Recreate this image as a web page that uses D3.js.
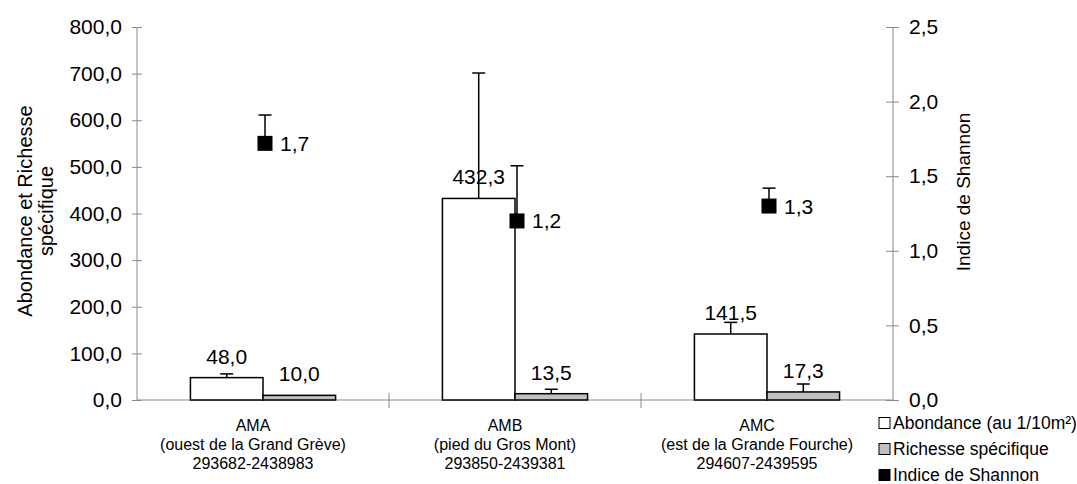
<!DOCTYPE html>
<html>
<head>
<meta charset="utf-8">
<script src="https://cdn.jsdelivr.net/npm/d3@7"></script>
<style>
  html, body { margin: 0; padding: 0; background: #fff; }
  svg { display: block; font-family: "Liberation Sans", Arial, sans-serif; }
</style>
</head>
<body>
<svg id="chart" width="1077" height="484"></svg>
<script>
// ---- Data ----
const categories = ["AMA", "AMB", "AMC"];
const categorySub = ["(ouest de la Grand Grève)", "(pied du Gros Mont)", "(est de la Grande Fourche)"];
const categoryCoord = ["293682-2438983", "293850-2439381", "294607-2439595"];
const abondance = [48.0, 432.3, 141.5];
const abondanceErr = [8, 269, 25];
const richesse = [10.0, 13.5, 17.3];
const richesseErr = [0, 9.5, 17];
const shannon = [1.72, 1.2, 1.3];
const shannonErr = [0.19, 0.37, 0.12];
const leftTicks = [0, 100, 200, 300, 400, 500, 600, 700, 800];
const rightTicks = [0, 0.5, 1.0, 1.5, 2.0, 2.5];
const legendLabels = ["Abondance (au 1/10m²)", "Richesse spécifique", "Indice de Shannon"];

// ---- Layout ----
const svg = d3.select("#chart");
const X0 = 137, X1 = 893, Y0 = 400, Y1 = 27;
const fmt = v => v.toFixed(1).replace(".", ",");

const x = d3.scaleBand().domain(categories).range([X0, X1]).paddingInner(0).paddingOuter(0);
const yL = d3.scaleLinear().domain([0, 800]).range([Y0, Y1]);
const yR = d3.scaleLinear().domain([0, 2.5]).range([Y0, Y1]);
const barW = x.bandwidth() * 0.288;
const axisColor = "#8a8a8a";
const bigFont = 21;

// Left axis
const gL = svg.append("g").attr("transform", `translate(${X0},0)`)
  .call(d3.axisLeft(yL).tickValues(leftTicks).tickFormat(fmt).tickSize(5).tickPadding(10));
gL.selectAll(".tick line").attr("x2", 5).attr("x1", -5);
// Right axis
const gR = svg.append("g").attr("transform", `translate(${X1},0)`)
  .call(d3.axisRight(yR).tickValues(rightTicks).tickFormat(fmt).tickSize(6).tickPadding(10));
gR.selectAll(".tick line").attr("x1", -7).attr("x2", 6);
[gL, gR].forEach(g => {
  g.selectAll(".tick line").attr("stroke", axisColor);
  g.selectAll(".tick text").attr("font-size", bigFont).attr("fill", "#000")
    .attr("font-family", "'Liberation Sans', Arial, sans-serif");
  g.select(".domain").remove();
});
svg.append("line").attr("x1", X0).attr("x2", X0).attr("y1", Y1).attr("y2", Y0).attr("stroke", axisColor);
svg.append("line").attr("x1", X1).attr("x2", X1).attr("y1", Y1).attr("y2", Y0).attr("stroke", axisColor);

// Bottom axis
svg.append("line").attr("x1", X0).attr("x2", X1).attr("y1", Y0).attr("y2", Y0).attr("stroke", axisColor);
const seps = categories.slice(1).map(c => x(c));
svg.selectAll(".sep").data(seps).enter().append("line")
  .attr("x1", d => d).attr("x2", d => d).attr("y1", Y0 - 7).attr("y2", Y0 + 8).attr("stroke", axisColor);

// Bars
const abX = c => x(c) + x.bandwidth() / 2 - barW;
const riX = c => x(c) + x.bandwidth() / 2;
svg.selectAll(".ab").data(categories).enter().append("rect")
  .attr("x", c => abX(c)).attr("width", barW)
  .attr("y", (c, i) => yL(abondance[i])).attr("height", (c, i) => Y0 - yL(abondance[i]))
  .attr("fill", "#fff").attr("stroke", "#000").attr("stroke-width", 1.5);
svg.selectAll(".ri").data(categories).enter().append("rect")
  .attr("x", c => riX(c)).attr("width", barW)
  .attr("y", (c, i) => yL(richesse[i])).attr("height", (c, i) => Y0 - yL(richesse[i]))
  .attr("fill", "#c0c0c0").attr("stroke", "#000").attr("stroke-width", 1.5);

// Error bars helper
function errBar(cx, yBase, yTop) {
  svg.append("line").attr("x1", cx).attr("x2", cx).attr("y1", yBase).attr("y2", yTop)
    .attr("stroke", "#000").attr("stroke-width", 1.5);
  svg.append("line").attr("x1", cx - 6.5).attr("x2", cx + 6.5).attr("y1", yTop).attr("y2", yTop)
    .attr("stroke", "#000").attr("stroke-width", 1.5);
}
categories.forEach((c, i) => {
  if (abondanceErr[i] > 0) errBar(abX(c) + barW / 2, yL(abondance[i]), yL(abondance[i] + abondanceErr[i]));
  if (richesseErr[i] > 0) errBar(riX(c) + barW / 2, yL(richesse[i]), yL(richesse[i] + richesseErr[i]));
  const sx = x(c) + x.bandwidth() / 2 + 2;
  errBar(sx, yR(shannon[i]), yR(shannon[i] + shannonErr[i]));
});

// Shannon markers
const mk = 15;
svg.selectAll(".sh").data(categories).enter().append("rect")
  .attr("x", c => x(c) + x.bandwidth() / 2 + 2 - mk / 2).attr("y", (c, i) => yR(shannon[i]) - mk / 2)
  .attr("width", mk).attr("height", mk).attr("fill", "#000");
svg.selectAll(".shl").data(categories).enter().append("text")
  .attr("x", c => x(c) + x.bandwidth() / 2 + 2 + 15).attr("y", (c, i) => yR(shannon[i]) + 7.5)
  .attr("font-size", bigFont).text((c, i) => fmt(shannon[i]));

// Value labels
svg.selectAll(".abl").data(categories).enter().append("text")
  .attr("x", c => abX(c) + barW / 2).attr("y", (c, i) => yL(abondance[i]) - 14)
  .attr("text-anchor", "middle").attr("font-size", bigFont).text((c, i) => fmt(abondance[i]));
svg.selectAll(".ril").data(categories).enter().append("text")
  .attr("x", c => riX(c) + barW / 2).attr("y", (c, i) => yL(richesse[i]) - 14)
  .attr("text-anchor", "middle").attr("font-size", bigFont).text((c, i) => fmt(richesse[i]));

// Category labels
categories.forEach((c, i) => {
  const cx = x(c) + x.bandwidth() / 2 - 10;
  const t = svg.append("text").attr("text-anchor", "middle").attr("font-size", 16)
    .attr("x", cx).attr("y", 431);
  [c, categorySub[i], categoryCoord[i]].forEach((s, k) => {
    t.append("tspan").attr("x", cx).attr("dy", k === 0 ? 0 : 19).text(s);
  });
});

// Axis titles
const lt = svg.append("text").attr("text-anchor", "middle").attr("font-size", 20)
  .attr("transform", "translate(32,211) rotate(-90)");
lt.append("tspan").attr("x", 0).attr("dy", 0).text("Abondance et Richesse");
lt.append("tspan").attr("x", 0).attr("dy", 21).text("spécifique");
svg.append("text").attr("text-anchor", "middle").attr("font-size", 19)
  .attr("transform", "translate(970,192) rotate(-90)").text("Indice de Shannon");

// Legend
const legFill = ["#fff", "#c0c0c0", "#000"];
legendLabels.forEach((s, k) => {
  const ly = 423 + k * 26;
  svg.append("rect").attr("x", 879).attr("y", ly - 5.5).attr("width", 11).attr("height", 11)
    .attr("fill", legFill[k]).attr("stroke", "#000").attr("stroke-width", 1);
  svg.append("text").attr("x", 893).attr("y", ly + 6).attr("font-size", 17.5).text(s);
});
</script>
</body>
</html>
